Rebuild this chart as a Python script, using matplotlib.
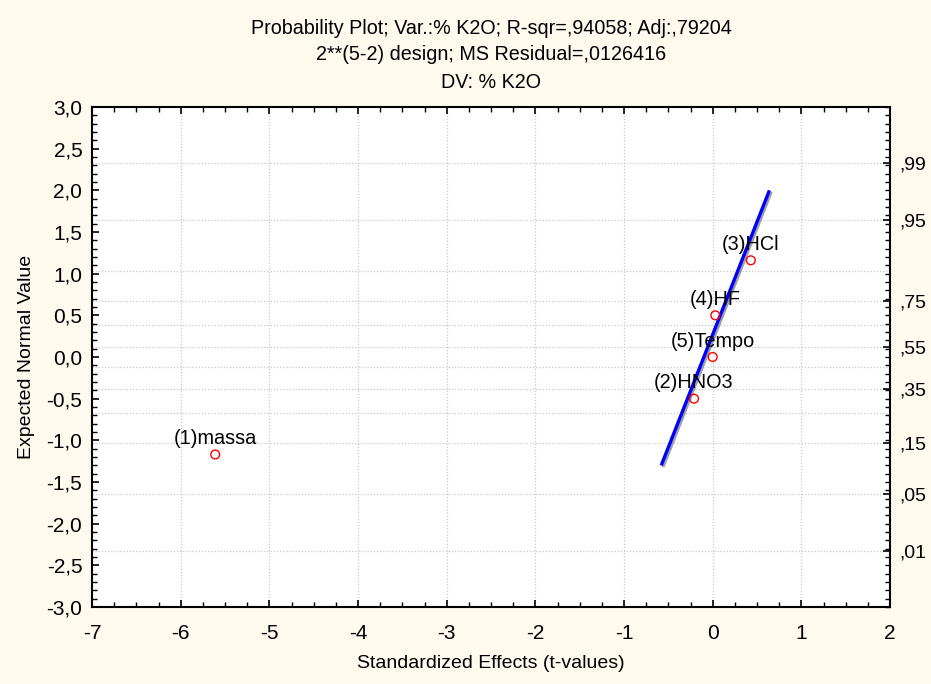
import matplotlib
matplotlib.use("Agg")
import matplotlib.pyplot as plt
import matplotlib.patheffects as pe
from matplotlib.ticker import MultipleLocator, FixedLocator
from statistics import NormalDist

# ---- data ----
effect_names = ["(1)massa", "(2)HNO3", "(5)Tempo", "(4)HF", "(3)HCl"]
t_values = [-5.61, -0.21, 0.00, 0.03, 0.43]
expected_normal = [-1.17, -0.50, 0.00, 0.50, 1.16]
fit_x = [-0.58, 0.64]
fit_y = [-1.30, 2.00]
prob_grid = [0.01, 0.05, 0.15, 0.25, 0.35, 0.45, 0.55, 0.65, 0.75, 0.85, 0.95, 0.99]
prob_labels = [0.01, 0.05, 0.15, 0.35, 0.55, 0.75, 0.95, 0.99]
x_ticks = [-7, -6, -5, -4, -3, -2, -1, 0, 1, 2]
y_ticks = [-3.0, -2.5, -2.0, -1.5, -1.0, -0.5, 0.0, 0.5, 1.0, 1.5, 2.0, 2.5, 3.0]
title_lines = ["Probability Plot; Var.:% K2O; R-sqr=,94058; Adj:,79204",
               "2**(5-2) design; MS Residual=,0126416",
               "DV: % K2O"]

plt.rcParams['font.family'] = ['Liberation Sans', 'DejaVu Sans']
bg = '#fff9ee'
fig = plt.figure(figsize=(9.31, 6.84), dpi=100, facecolor=bg)
ax = fig.add_axes([92/931, 1-607/684, (890-92)/931, (607-107)/684])
ax.set_facecolor('white')

ax.set_xlim(-7, 2)
ax.set_ylim(-3, 3)

nd = NormalDist()
# grid
for xv in x_ticks[1:-1]:
    ax.axvline(xv, color='#c8c8c8', lw=0.9, ls=(0, (1, 1.5)), zorder=0)
for p in prob_grid:
    ax.axhline(nd.inv_cdf(p), color='#c8c8c8', lw=0.9, ls=(0, (1, 1.5)), zorder=0)

# fit line
ax.plot(fit_x, fit_y, color='#0000ff', lw=2.4, solid_capstyle='butt', zorder=3,
        path_effects=[pe.SimpleLineShadow(offset=(1.2, -1.2), shadow_color='#777777', alpha=0.7), pe.Normal()])

# points
ax.scatter(t_values, expected_normal, s=40, facecolors='none', edgecolors='#ff0000', linewidths=1.0, zorder=4)
for name, xv, yv in zip(effect_names, t_values, expected_normal):
    ax.annotate(name, (xv, yv), xytext=(0, 11.5), textcoords='offset points',
                ha='center', va='center', fontsize=14.3, color='black', zorder=5)

# ticks
ax.xaxis.set_major_locator(FixedLocator(x_ticks))
ax.xaxis.set_minor_locator(MultipleLocator(0.25))
ax.yaxis.set_major_locator(FixedLocator(y_ticks))
ax.yaxis.set_minor_locator(MultipleLocator(0.1))
ax.set_xticklabels([str(v) for v in x_ticks])
ax.set_yticklabels([f"{v:.1f}".replace('.', ',') for v in y_ticks])
ax.tick_params(which='both', direction='in', top=True, right=False, colors='black', labelsize=15)
ax.tick_params(which='major', length=5, width=1.2)
ax.tick_params(which='minor', length=3.5, width=1.0)
ax.tick_params(axis='x', which='major', pad=12)
ax.tick_params(axis='y', which='major', pad=7)
for s in ax.spines.values():
    s.set_linewidth(1.5)
    s.set_color('black')

ax2 = ax.twinx()
ax2.set_ylim(-3, 3)
ax2.yaxis.set_major_locator(FixedLocator([nd.inv_cdf(p) for p in prob_labels]))
ax2.yaxis.set_minor_locator(MultipleLocator(0.1))
ax2.set_yticklabels(["," + f"{p:.2f}"[2:] for p in prob_labels])
ax2.tick_params(which='both', direction='in', labelsize=14, colors='black')
ax2.tick_params(which='major', length=5, width=1.2, pad=7)
ax2.tick_params(which='minor', length=3.5, width=1.0)
for s in ax2.spines.values():
    s.set_visible(False)

ax.set_xlabel("Standardized Effects (t-values)", fontsize=14, labelpad=9)
ax.set_ylabel("Expected Normal Value", fontsize=14, labelpad=8)

for i, line in enumerate(title_lines):
    fig.text(491/931, 1 - (28 + 27*i)/684, line, ha='center', va='center', fontsize=14.2)

fig.savefig("out.png", dpi=100, facecolor=bg)
